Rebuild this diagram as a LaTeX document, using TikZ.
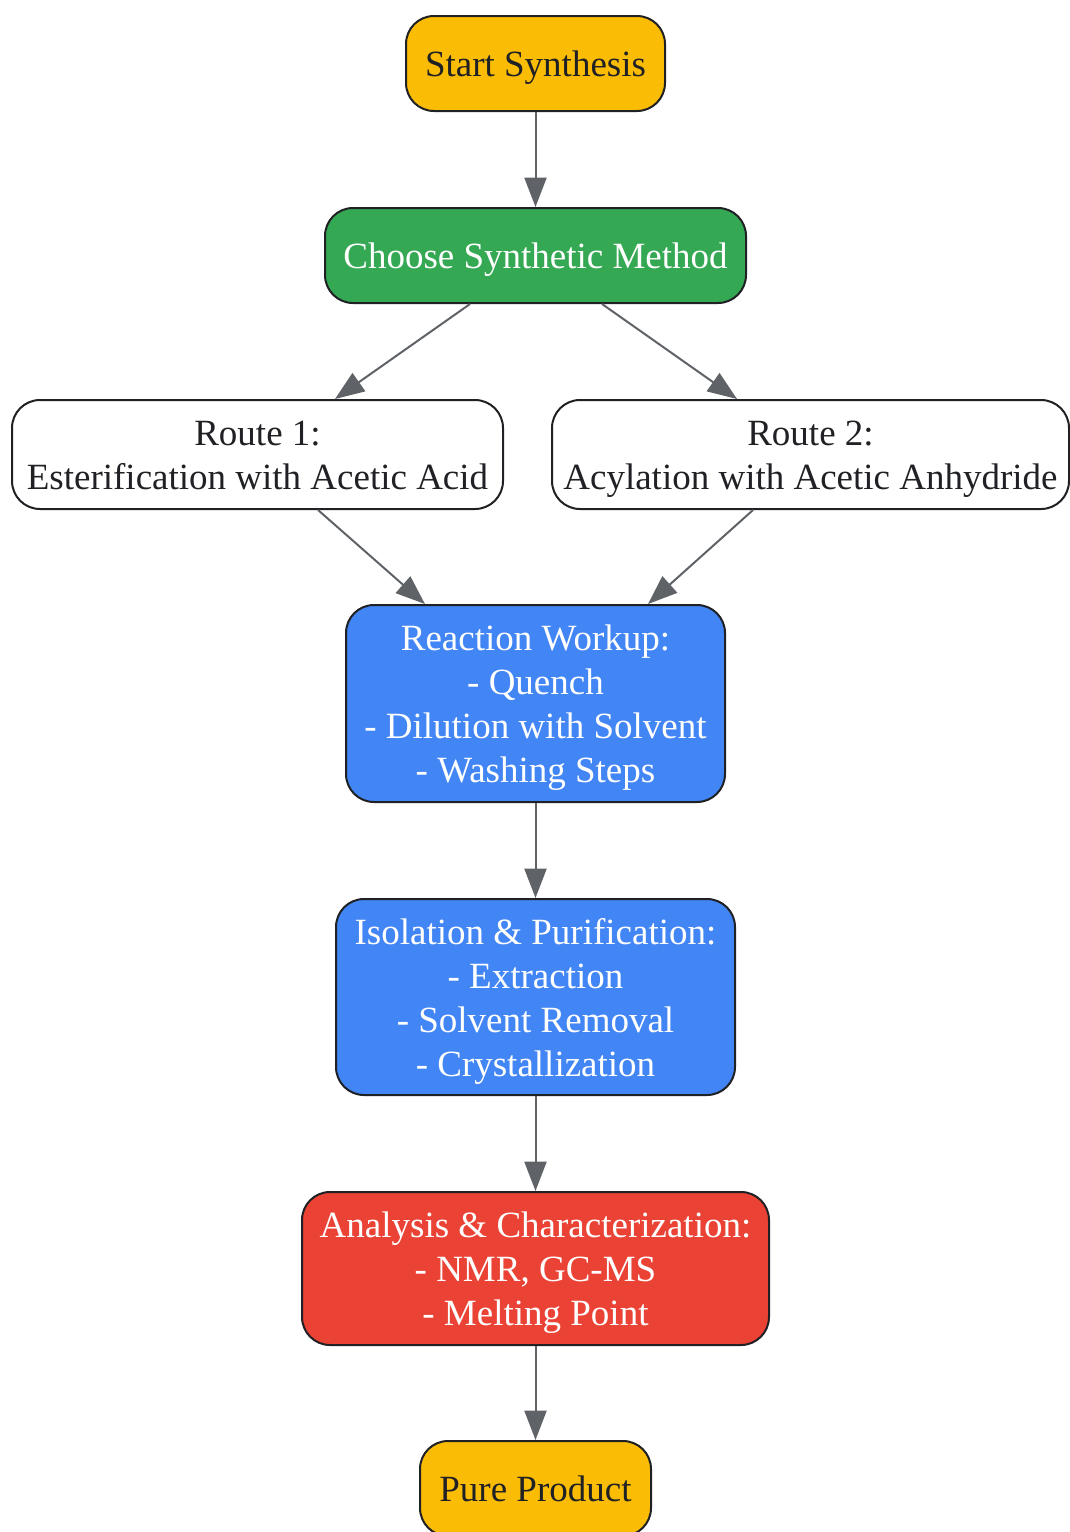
\documentclass[tikz,border=0pt]{standalone}
\usepackage{fontspec}
\setmainfont{Liberation Serif}
\usetikzlibrary{arrows.meta}
\definecolor{cyellow}{HTML}{FBBC05}
\definecolor{cgreen}{HTML}{34A853}
\definecolor{cblue}{HTML}{4285F4}
\definecolor{cred}{HTML}{EA4335}
\definecolor{cdark}{HTML}{202124}
\definecolor{carrow}{HTML}{5F6368}
\newcommand\tstrut{\rule{0pt}{26pt}}
\newcommand\bstrut{\rule[-6.2pt]{0pt}{0pt}}
\tikzset{
  box/.style={draw=cdark, line width=1.5pt, rounded corners=21pt, inner sep=0pt,
    align=center, font=\fontsize{27.75pt}{33pt}\selectfont},
  ybox/.style={box, fill=cyellow, text=cdark},
  gbox/.style={box, fill=cgreen, text=white},
  bbox/.style={box, fill=cblue, text=white},
  rbox/.style={box, fill=cred, text=white},
  wbox/.style={box, fill=white, text=cdark},
  conn/.style={draw=carrow, line width=1.5pt, -{Triangle[length=22pt,width=16.5pt]}}
}
\begin{document}
\begin{tikzpicture}[x=0.75pt,y=-0.75pt]
\useasboundingbox (0,0) rectangle (1070,1532);
\clip (0,0) rectangle (1070,1532);
\node[ybox, minimum width=194.25pt, minimum height=71.25pt] (start) at (535.5,63.5) {\tstrut Start Synthesis\bstrut};
\node[gbox, minimum width=315.75pt, minimum height=71.25pt] (choose) at (535.5,255.5) {\tstrut Choose Synthetic Method\bstrut};
\node[wbox, minimum width=368.25pt, minimum height=81.75pt] (r1) at (257.5,454.5) {\tstrut Route 1:\\Esterification with Acetic Acid\bstrut};
\node[wbox, minimum width=387.75pt, minimum height=81.75pt] (r2) at (810.5,454.5) {\tstrut Route 2:\\Acylation with Acetic Anhydride\bstrut};
\node[bbox, minimum width=284.25pt, minimum height=147.75pt] (work) at (535.5,703.5) {\tstrut Reaction Workup:\\- Quench\\- Dilution with Solvent\\- Washing Steps\bstrut};
\node[bbox, minimum width=299.25pt, minimum height=147pt] (iso) at (535.5,997) {\tstrut Isolation \& Purification:\\- Extraction\\- Solvent Removal\\- Crystallization\bstrut};
\node[rbox, minimum width=350.25pt, minimum height=114.75pt] (ana) at (535.5,1268.5) {\tstrut Analysis \& Characterization:\\- NMR, GC-MS\\- Melting Point\bstrut};
\node[ybox, minimum width=173.25pt, minimum height=71.25pt] (pure) at (535.5,1488.5) {\tstrut Pure Product\bstrut};
\draw[conn] (start.south) -- (choose.north);
\draw[conn] ([xshift=-49.1pt]choose.south) -- ([xshift=58.1pt]r1.north);
\draw[conn] ([xshift=49.9pt]choose.south) -- ([xshift=-55.1pt]r2.north);
\draw[conn] ([xshift=45.4pt]r1.south) -- ([xshift=-82.9pt]work.north);
\draw[conn] ([xshift=-43.1pt]r2.south) -- ([xshift=84.4pt]work.north);
\draw[conn] (work.south) -- (iso.north);
\draw[conn] (iso.south) -- (ana.north);
\draw[conn] (ana.south) -- (pure.north);
\end{tikzpicture}
\end{document}
